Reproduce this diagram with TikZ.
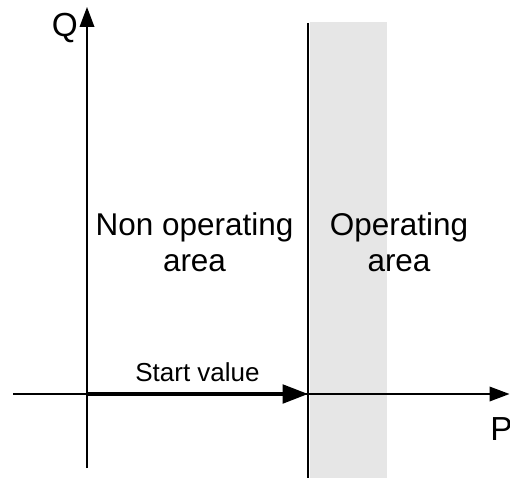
\documentclass[tikz,border=0pt]{standalone}
\usepackage{fontspec}
\setmainfont{Liberation Sans}
\usetikzlibrary{arrows.meta,positioning}
\definecolor{opgrey}{HTML}{E6E6E6}
\tikzset{
  axis/.style={line width=1.1pt,-{Triangle[length=15pt,width=11pt]}},
  startarrow/.style={line width=2.3pt,-{Triangle[length=19pt,width=14pt]}},
  arealabel/.style={inner sep=0pt,align=center,font=\fontsize{23.6}{27}\selectfont},
  axislabel/.style={inner sep=0pt,font=\fontsize{25}{30}\selectfont},
}

\begin{document}
\begin{tikzpicture}[x=0.75pt,y=-0.75pt]
      \useasboundingbox (0,0) rectangle (510,478);
      \fill[opgrey] (310,22) rectangle (387,478);

      \coordinate (O) at (87,394);
      \coordinate (Qtop) at (87,7);
      \coordinate (Qbot) at (87,468);
      \coordinate (Pleft) at (13,394);
      \coordinate (Pright) at (509.5,394);
      \coordinate (S) at (308,394);
      \coordinate (Ltop) at (308,23);
      \coordinate (Lbot) at (308,478);

      \node[axislabel,anchor=base east] (Q) at (78,37) {Q};
      \node[axislabel,anchor=base west] (P) at (490,440) {P};
      \node[arealabel,anchor=north] (non) at (194.5,212) {Non operating\\area};
      \node[arealabel,anchor=north] (op) at (399,212) {Operating\\area};

      \draw[axis] (Qbot) -- (Qtop);
      \draw[axis] (Pleft) -- (Pright);
      \draw[line width=1.1pt] (Ltop) -- (Lbot);
      \draw[startarrow] (O) -- node[above=8pt,inner sep=0pt,font=\fontsize{19.5}{23}\selectfont] (start) {Start value} (S);
\end{tikzpicture}
\end{document}
